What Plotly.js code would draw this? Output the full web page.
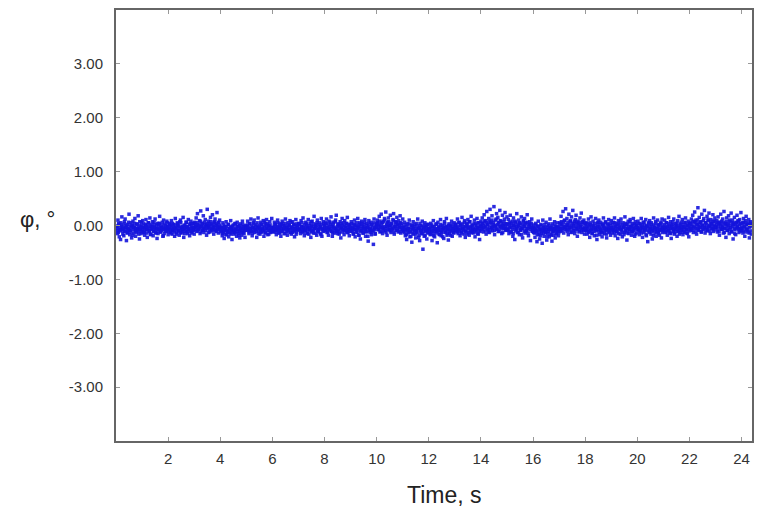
<!DOCTYPE html>
<html>
<head>
<meta charset="utf-8">
<script src="https://cdn.plot.ly/plotly-3.0.1.min.js"></script>
<style>html,body{margin:0;padding:0;background:#fff;}#chart{width:768px;height:523px;}</style>
</head>
<body>
<div id="chart"></div>
<script>
// Sampling step of the recorded signal, seconds
const sampleStep = 0.025;

// Angle phi (degrees): samples on the full step (40 per second)
const phiValues = [
-0.02,-0.15,0.10,0.04,-0.21,-0.08,-0.26,0.01,0.16,-0.05,-0.11,-0.19,0.07,0.12,-0.03,-0.28,-0.13,0.02,-0.07,0.21,-0.17,-0.09,0.05,-0.23,-0.01,0.08,-0.14,-0.04,0.13,-0.20,-0.10,0.03,-0.06,0.18,-0.16,-0.25,0.00,-0.08,0.06,-0.12,
0.09,-0.04,-0.13,-0.18,0.02,0.11,-0.07,-0.22,-0.01,0.05,-0.10,0.14,-0.16,-0.06,-0.02,0.07,-0.19,-0.11,0.01,0.12,-0.05,-0.14,-0.24,0.04,-0.08,0.03,0.17,-0.12,-0.03,-0.09,0.06,-0.20,0.10,-0.15,-0.06,0.00,-0.11,0.08,-0.02,-0.17,
-0.07,0.04,-0.12,-0.01,0.09,-0.16,-0.09,0.02,-0.04,-0.20,0.13,-0.06,-0.13,0.05,0.00,-0.10,-0.18,0.07,0.10,-0.03,-0.14,-0.08,0.15,-0.22,-0.05,0.01,-0.11,0.06,-0.02,-0.15,0.11,-0.07,-0.19,0.03,0.08,-0.12,-0.04,-0.09,0.04,-0.16,
0.06,-0.03,0.14,-0.11,0.22,0.01,-0.07,0.09,-0.15,0.27,-0.02,0.04,-0.09,0.18,-0.13,-0.05,0.11,0.02,-0.18,0.30,-0.06,0.08,-0.01,-0.12,0.15,0.03,-0.08,0.20,-0.04,-0.16,0.07,0.12,-0.10,0.00,0.24,-0.07,-0.14,0.05,0.10,-0.03,
-0.10,-0.04,-0.19,0.05,-0.13,-0.24,-0.02,-0.08,0.07,-0.17,-0.11,0.02,-0.21,-0.06,-0.14,0.09,-0.03,-0.26,-0.09,0.01,-0.16,-0.12,0.04,-0.07,-0.20,0.06,-0.01,-0.15,-0.10,-0.23,0.03,-0.05,-0.18,0.08,-0.13,-0.02,-0.09,-0.22,0.00,-0.06,
-0.02,0.08,-0.09,-0.15,0.03,-0.06,0.12,-0.11,-0.19,-0.04,0.05,0.10,-0.13,-0.07,0.01,-0.22,-0.03,0.14,-0.10,-0.05,-0.16,0.06,0.02,-0.12,-0.08,0.09,-0.20,-0.01,-0.14,0.04,0.11,-0.06,-0.17,0.00,-0.09,0.07,-0.13,-0.04,0.13,-0.11,
-0.05,-0.12,0.06,0.01,-0.09,-0.17,-0.03,0.10,-0.07,-0.14,0.03,-0.02,-0.20,-0.10,0.08,0.04,-0.06,-0.15,-0.01,0.12,-0.11,-0.04,-0.18,0.05,-0.08,0.00,0.09,-0.13,-0.16,-0.03,0.07,-0.10,0.02,-0.21,-0.06,0.11,-0.12,-0.01,-0.08,0.04,
0.03,-0.08,-0.15,0.09,-0.02,-0.11,0.14,-0.05,-0.19,-0.09,0.06,0.01,-0.13,-0.04,0.11,-0.16,-0.07,0.04,-0.22,-0.01,0.08,-0.10,-0.14,0.17,-0.06,-0.03,0.02,-0.18,0.10,-0.12,-0.08,0.05,-0.02,-0.15,0.13,-0.20,-0.05,0.07,-0.11,0.00,
-0.09,0.05,0.12,-0.13,-0.04,-0.18,0.08,-0.07,0.02,0.16,-0.11,-0.20,-0.02,0.06,-0.14,-0.06,0.10,0.19,-0.09,-0.15,0.03,-0.01,-0.12,0.07,-0.23,-0.05,0.13,0.01,-0.08,-0.17,0.09,-0.03,-0.10,0.04,0.15,-0.13,-0.07,-0.19,0.02,-0.04,
0.07,-0.10,-0.05,-0.16,0.03,0.10,-0.21,-0.08,0.00,-0.13,0.13,-0.03,-0.18,0.05,-0.25,-0.09,0.08,-0.02,-0.14,0.01,-0.06,0.11,-0.20,-0.11,0.04,-0.04,-0.29,0.09,-0.12,-0.07,0.06,-0.17,0.02,-0.10,-0.35,0.12,-0.05,-0.15,-0.01,0.04,
0.10,-0.07,0.02,0.17,-0.12,-0.03,0.21,0.05,-0.15,0.08,-0.05,0.13,-0.10,0.25,-0.01,-0.18,0.06,0.14,-0.08,0.00,0.19,-0.13,0.03,-0.06,0.11,0.22,-0.16,-0.02,0.07,-0.09,0.15,0.01,-0.12,0.09,-0.04,0.18,-0.14,0.04,-0.07,0.12,
-0.11,-0.03,0.06,-0.19,-0.08,-0.26,0.03,-0.14,-0.05,0.10,-0.21,-0.12,0.01,-0.31,-0.07,0.07,-0.16,-0.02,-0.10,-0.23,0.04,-0.13,0.12,-0.06,-0.18,-0.28,0.00,-0.09,-0.15,0.08,-0.44,-0.04,-0.20,0.05,-0.11,-0.01,-0.25,-0.08,0.02,-0.14,
-0.06,-0.17,0.04,-0.11,-0.28,-0.02,0.09,-0.14,-0.21,-0.07,0.02,-0.10,-0.32,0.06,-0.04,-0.16,-0.09,0.11,-0.19,-0.13,0.00,-0.06,-0.24,0.07,-0.12,-0.03,0.13,-0.18,-0.08,-0.27,0.03,-0.15,-0.01,-0.10,0.08,-0.20,-0.05,-0.13,0.05,-0.09,
0.02,-0.10,-0.04,0.12,-0.15,-0.08,0.06,-0.19,0.01,-0.12,0.15,-0.06,-0.02,-0.16,0.09,-0.22,-0.09,0.04,-0.03,0.11,-0.13,-0.18,0.07,-0.05,0.17,-0.11,0.00,-0.14,-0.07,0.10,-0.21,0.03,-0.09,0.13,-0.04,-0.16,0.05,-0.26,-0.01,0.08,
-0.05,0.14,0.04,-0.12,0.20,-0.03,0.09,-0.16,0.26,0.01,-0.08,0.13,-0.13,0.30,0.06,-0.04,0.18,-0.10,0.02,0.35,-0.17,0.10,-0.01,0.22,-0.07,0.15,0.05,-0.11,0.28,-0.02,0.08,-0.15,0.19,0.00,-0.06,0.12,0.24,-0.09,0.03,0.16,
-0.08,0.11,-0.15,0.03,0.19,-0.04,-0.12,0.08,-0.20,0.14,0.00,-0.26,0.06,-0.07,0.22,-0.13,-0.02,0.10,-0.17,0.04,-0.09,0.16,-0.05,-0.23,0.09,-0.01,0.13,-0.14,0.05,-0.10,0.20,-0.06,-0.19,0.02,0.07,-0.28,-0.03,0.12,-0.11,0.01,
-0.13,-0.05,-0.22,0.04,-0.10,-0.30,-0.01,0.08,-0.17,-0.25,-0.07,0.02,-0.14,-0.33,0.10,-0.09,-0.20,-0.03,-0.12,0.06,-0.27,-0.15,0.00,-0.08,-0.21,0.12,-0.04,-0.18,-0.29,0.03,-0.11,-0.06,0.07,-0.23,-0.02,-0.16,0.05,-0.10,-0.19,-0.07,
0.05,-0.11,0.17,0.02,-0.06,0.26,-0.14,0.09,-0.02,0.31,-0.08,0.13,0.00,-0.17,0.21,-0.04,0.07,-0.12,0.16,-0.01,0.28,-0.09,0.04,-0.15,0.11,0.19,-0.05,-0.20,0.08,0.01,-0.10,0.14,-0.03,0.23,-0.13,0.06,-0.07,0.10,-0.16,0.03,
-0.09,0.05,-0.16,-0.03,0.12,-0.11,-0.22,0.02,0.16,-0.07,-0.14,0.08,-0.01,-0.19,-0.05,0.13,-0.10,-0.26,0.04,-0.02,0.10,-0.17,-0.08,0.06,-0.12,-0.21,0.01,0.14,-0.04,-0.15,0.07,-0.09,-0.23,0.03,-0.06,0.11,-0.13,0.00,-0.18,0.09,
-0.04,-0.14,0.06,-0.09,0.14,-0.19,-0.01,0.03,-0.12,-0.24,0.09,-0.06,0.00,-0.16,0.12,-0.08,-0.21,0.05,-0.03,-0.13,0.16,-0.10,0.02,-0.27,-0.05,0.08,-0.15,-0.07,0.11,-0.02,-0.18,0.04,-0.11,0.13,-0.06,-0.20,0.07,0.01,-0.14,-0.04,
0.08,-0.07,-0.17,0.03,-0.10,0.13,-0.04,-0.22,0.06,-0.13,0.00,-0.08,0.11,-0.19,-0.02,-0.30,0.05,-0.11,0.09,-0.05,-0.16,0.02,-0.25,-0.09,0.14,-0.03,-0.14,0.07,-0.20,-0.06,0.10,-0.12,0.01,-0.18,-0.08,0.04,-0.23,0.12,-0.01,-0.10,
-0.06,0.10,-0.13,-0.03,0.05,-0.18,-0.09,0.15,-0.01,-0.14,0.07,-0.24,-0.05,0.02,-0.11,0.12,-0.16,-0.07,0.04,-0.02,-0.20,0.09,-0.10,0.17,-0.04,-0.13,0.01,-0.08,0.11,-0.17,-0.03,0.06,-0.12,0.14,-0.07,0.00,-0.15,0.08,-0.21,0.03,
0.04,-0.08,0.12,-0.02,0.19,-0.13,0.07,0.25,-0.05,0.10,-0.16,0.02,0.33,-0.09,0.15,-0.03,0.06,-0.12,0.21,0.00,-0.07,0.13,0.28,-0.14,0.05,-0.04,0.17,-0.10,0.09,0.23,-0.01,-0.15,0.11,0.03,-0.06,0.20,-0.11,0.08,0.14,-0.03,
-0.02,0.09,-0.12,0.16,0.03,-0.18,0.06,0.21,-0.07,-0.01,0.12,-0.14,0.26,-0.05,0.04,-0.22,0.14,-0.09,0.01,0.18,-0.15,0.07,-0.04,0.23,-0.11,0.10,-0.25,0.02,0.15,-0.08,-0.17,0.05,0.19,-0.03,0.08,-0.13,0.11,-0.06,0.24,-0.10,
0.05,-0.14,0.13,-0.03,-0.20,0.09,0.17,-0.08,0.02,-0.12,0.11,-0.23,-0.01,0.07,-0.16,0.04
];

// Angle phi (degrees): samples on the half step (dense core of the band)
const phiMidValues = [
-0.06,-0.01,-0.09,-0.13,0.02,-0.04,-0.10,0.05,-0.07,-0.02,-0.16,-0.05,0.03,-0.11,-0.08,0.00,-0.03,-0.14,-0.06,0.06,-0.09,-0.01,-0.12,-0.04,0.01,-0.18,-0.07,-0.02,0.04,-0.10,-0.05,-0.13,0.02,-0.08,-0.03,-0.11,0.07,-0.06,-0.15,-0.01,
-0.04,-0.09,0.03,-0.12,-0.06,0.00,-0.02,-0.14,-0.08,0.05,-0.05,-0.11,-0.01,-0.17,0.02,-0.07,-0.04,-0.10,0.06,-0.03,-0.13,-0.08,0.01,-0.06,-0.15,-0.02,0.04,-0.09,-0.12,-0.04,0.00,-0.07,-0.19,-0.03,0.03,-0.10,-0.05,-0.08,0.05,-0.02,
-0.11,-0.05,0.02,-0.08,-0.14,-0.03,0.04,-0.09,-0.06,-0.12,0.01,-0.04,-0.16,-0.07,0.03,-0.01,-0.10,-0.05,-0.13,0.05,-0.08,-0.02,-0.11,-0.06,0.00,-0.15,-0.04,0.06,-0.09,-0.03,-0.12,-0.07,0.02,-0.05,-0.10,-0.01,-0.14,0.04,-0.06,-0.09,
-0.03,0.02,-0.07,-0.01,0.05,-0.10,-0.04,0.01,-0.06,0.08,-0.12,-0.02,0.03,-0.08,-0.05,0.06,-0.01,-0.09,0.00,-0.04,0.04,-0.13,-0.03,0.02,-0.07,0.07,-0.05,-0.10,0.01,-0.02,0.05,-0.08,-0.04,0.03,-0.11,-0.01,0.06,-0.06,-0.03,0.00,
-0.08,-0.12,-0.04,-0.15,-0.07,0.01,-0.10,-0.05,-0.17,-0.02,-0.09,-0.13,0.02,-0.06,-0.11,-0.03,-0.16,-0.08,-0.01,-0.12,-0.05,-0.09,0.03,-0.14,-0.07,-0.02,-0.11,-0.06,-0.18,0.00,-0.08,-0.04,-0.13,-0.10,0.02,-0.06,-0.15,-0.03,-0.09,-0.05,
-0.05,0.01,-0.08,-0.03,-0.12,0.04,-0.06,-0.10,-0.01,-0.14,-0.04,0.03,-0.09,-0.07,-0.02,-0.11,0.05,-0.05,-0.15,-0.03,0.00,-0.08,-0.12,0.02,-0.06,-0.04,-0.10,0.06,-0.07,-0.13,-0.01,-0.05,0.03,-0.09,-0.16,-0.02,0.01,-0.08,-0.04,-0.11,
-0.04,-0.09,-0.01,-0.06,0.03,-0.12,-0.07,-0.02,0.05,-0.10,-0.05,-0.14,-0.03,0.02,-0.08,-0.11,0.00,-0.06,-0.04,-0.15,0.04,-0.07,-0.02,-0.09,-0.12,0.01,-0.05,-0.08,0.06,-0.03,-0.13,-0.06,0.02,-0.10,-0.01,-0.07,-0.16,0.03,-0.04,-0.08,
-0.07,0.02,-0.05,-0.11,-0.02,0.05,-0.08,-0.13,-0.04,0.01,-0.09,-0.06,0.04,-0.15,-0.03,-0.07,0.00,-0.10,-0.05,0.07,-0.12,-0.02,-0.08,0.03,-0.06,-0.14,-0.01,-0.04,0.05,-0.09,-0.11,0.01,-0.06,-0.03,-0.17,0.02,-0.07,-0.10,0.04,-0.05,
-0.02,-0.08,0.04,-0.05,-0.12,0.01,-0.07,-0.03,0.06,-0.10,-0.06,-0.01,-0.14,0.03,-0.04,-0.09,0.07,-0.05,-0.11,-0.02,0.02,-0.08,-0.16,0.00,-0.06,0.04,-0.03,-0.12,-0.07,0.05,-0.01,-0.10,-0.05,0.03,-0.13,-0.04,0.01,-0.08,-0.02,-0.11,
-0.06,0.03,-0.10,-0.04,-0.15,0.01,-0.07,-0.02,-0.12,0.05,-0.08,-0.05,-0.18,-0.01,0.02,-0.11,-0.06,0.04,-0.09,-0.14,-0.03,0.06,-0.07,-0.12,0.00,-0.05,-0.20,-0.02,0.03,-0.09,-0.06,-0.13,0.01,-0.04,-0.10,0.05,-0.08,-0.16,-0.03,0.02,
-0.03,0.05,-0.08,-0.01,0.08,-0.05,-0.11,0.02,-0.04,0.06,-0.09,-0.02,0.10,-0.06,-0.13,0.03,-0.01,-0.07,0.07,-0.04,-0.10,0.01,0.04,-0.08,-0.03,0.09,-0.12,-0.05,0.02,-0.02,0.06,-0.09,-0.06,0.03,-0.01,-0.11,0.05,-0.04,0.00,-0.07,
-0.09,-0.04,-0.13,0.01,-0.07,-0.17,-0.02,-0.10,-0.06,0.03,-0.12,-0.08,-0.20,-0.03,0.00,-0.14,-0.05,-0.09,0.02,-0.16,-0.07,-0.11,-0.01,-0.06,-0.22,-0.04,0.04,-0.12,-0.08,-0.02,-0.15,-0.10,0.01,-0.06,-0.18,-0.03,-0.09,0.02,-0.13,-0.05,
-0.07,-0.12,-0.03,-0.16,0.01,-0.09,-0.05,-0.19,-0.02,-0.11,-0.07,0.03,-0.14,-0.06,-0.10,-0.01,-0.17,-0.04,0.02,-0.12,-0.08,-0.21,-0.03,-0.06,0.04,-0.13,-0.09,-0.02,-0.15,-0.05,0.00,-0.11,-0.07,-0.18,-0.03,0.02,-0.10,-0.06,-0.14,-0.01,
-0.04,0.02,-0.08,-0.12,-0.02,0.05,-0.07,-0.10,0.00,-0.05,-0.14,0.03,-0.06,-0.09,0.06,-0.03,-0.11,-0.01,-0.16,0.02,-0.06,-0.04,0.07,-0.10,-0.02,-0.13,0.01,-0.07,-0.05,0.04,-0.12,-0.08,0.00,-0.03,-0.15,0.05,-0.06,-0.09,-0.01,-0.11,
-0.02,0.04,-0.07,0.01,-0.04,0.08,-0.10,-0.01,0.05,-0.06,0.02,-0.12,0.07,-0.03,-0.08,0.03,0.10,-0.05,-0.02,0.06,-0.09,0.00,-0.04,0.12,-0.07,0.02,-0.11,0.05,-0.01,0.09,-0.06,-0.03,0.04,-0.13,0.01,0.07,-0.05,-0.02,0.03,-0.08,
-0.05,0.02,-0.09,-0.03,0.06,-0.12,-0.01,0.04,-0.07,-0.15,0.01,-0.04,0.08,-0.10,-0.02,-0.06,0.03,-0.13,0.00,0.05,-0.08,-0.04,-0.17,0.02,-0.06,0.07,-0.11,-0.02,0.03,-0.09,-0.05,0.06,-0.14,-0.01,0.01,-0.07,-0.03,0.04,-0.10,-0.05,
-0.09,-0.03,-0.14,-0.07,0.01,-0.11,-0.17,-0.05,-0.02,-0.12,-0.08,-0.19,0.00,-0.06,-0.10,-0.15,-0.04,0.02,-0.09,-0.13,-0.07,-0.21,-0.03,-0.11,0.03,-0.06,-0.16,-0.08,-0.01,-0.12,-0.05,-0.18,-0.09,0.01,-0.07,-0.14,-0.04,-0.10,-0.02,-0.13,
-0.03,0.03,-0.06,0.07,-0.09,-0.01,0.05,-0.04,0.10,-0.07,-0.02,0.02,-0.11,0.06,-0.05,0.01,-0.08,0.09,-0.03,-0.13,0.04,-0.06,0.00,0.08,-0.10,-0.02,0.05,-0.07,0.03,-0.04,-0.12,0.06,-0.01,-0.08,0.02,-0.05,0.07,-0.09,-0.03,0.04,
-0.06,-0.02,-0.10,0.03,-0.07,-0.13,-0.01,0.05,-0.09,-0.04,-0.15,0.01,-0.06,-0.11,0.04,-0.03,-0.08,-0.18,-0.02,0.06,-0.07,-0.12,-0.04,0.02,-0.10,-0.05,-0.14,0.03,-0.01,-0.09,-0.06,0.05,-0.16,-0.03,-0.08,0.01,-0.11,-0.05,0.04,-0.07,
-0.05,-0.09,0.02,-0.04,-0.13,0.05,-0.07,-0.02,-0.11,-0.06,0.03,-0.15,-0.03,0.06,-0.08,-0.05,-0.12,0.01,-0.04,-0.17,-0.01,0.04,-0.09,-0.06,-0.14,0.02,-0.03,-0.10,0.07,-0.07,-0.02,-0.12,0.00,-0.05,-0.09,0.03,-0.16,-0.04,0.01,-0.08,
-0.03,-0.08,0.04,-0.11,-0.05,-0.01,-0.14,0.02,-0.07,-0.04,0.06,-0.10,-0.06,-0.17,0.00,-0.03,-0.09,0.03,-0.13,-0.07,-0.02,0.05,-0.11,-0.05,-0.19,0.01,-0.04,-0.08,0.04,-0.12,-0.06,-0.01,-0.15,0.02,-0.09,-0.03,0.06,-0.07,-0.13,-0.04,
-0.06,0.02,-0.09,-0.04,0.05,-0.12,-0.02,-0.07,0.03,-0.10,-0.05,-0.15,0.01,-0.03,0.07,-0.08,-0.06,-0.13,0.00,-0.04,0.04,-0.11,-0.07,-0.01,-0.16,0.03,-0.05,0.06,-0.09,-0.02,-0.12,0.02,-0.06,-0.03,0.05,-0.14,-0.08,0.01,-0.04,-0.10,
-0.02,0.05,-0.06,0.02,-0.09,0.08,-0.04,-0.01,0.06,-0.11,0.03,-0.05,0.10,-0.02,-0.08,0.04,-0.03,0.07,-0.12,0.01,-0.06,0.09,-0.01,-0.04,0.05,-0.09,0.02,-0.07,0.11,-0.03,0.00,-0.10,0.06,-0.05,0.03,-0.02,0.08,-0.08,0.01,-0.04,
-0.04,0.03,-0.08,0.06,-0.02,-0.11,0.04,-0.05,0.01,0.08,-0.07,-0.03,0.05,-0.13,0.02,-0.06,0.07,-0.01,-0.09,0.03,-0.04,0.10,-0.08,0.00,-0.12,0.05,-0.02,0.04,-0.06,-0.15,0.01,0.06,-0.05,-0.01,0.09,-0.07,0.02,-0.10,0.04,-0.03,
-0.05,0.03,-0.09,0.06,-0.02,-0.12,0.04,-0.06,0.01,-0.08,0.05,-0.14,-0.03,0.02,-0.10,0.00
];

// Sample times (s)
const timeValues = phiValues.map((_, i) => (i + 1) * sampleStep);
const timeMidValues = phiMidValues.map((_, i) => (i + 0.5) * sampleStep);

const xTickValues = [2, 4, 6, 8, 10, 12, 14, 16, 18, 20, 22, 24];
const xTickLabels = ["2", "4", "6", "8", "10", "12", "14", "16", "18", "20", "22", "24"];
const yTickValues = [-3, -2, -1, 0, 1, 2, 3];
const yTickLabels = ["-3.00", "-2.00", "-1.00", "0.00", "1.00", "2.00", "3.00"];

const markerStyle = {symbol: 'square', size: 3.5, color: 'rgb(20,20,220)', opacity: 0.9, line: {width: 0}};

const traces = [
  {x: timeValues, y: phiValues, type: 'scatter', mode: 'markers', marker: markerStyle, hoverinfo: 'x+y'},
  {x: timeMidValues, y: phiMidValues, type: 'scatter', mode: 'markers', marker: markerStyle, hoverinfo: 'x+y'}
];

const fontFamily = 'Liberation Sans, Arial, sans-serif';
const axisFont = {family: fontFamily, size: 15, color: '#333'};

const layout = {
  width: 768,
  height: 523,
  margin: {l: 116, r: 16, t: 10, b: 82},
  paper_bgcolor: '#fff',
  plot_bgcolor: '#fff',
  showlegend: false,
  xaxis: {
    range: [0, 24.4],
    tickvals: xTickValues,
    ticktext: xTickLabels,
    ticks: 'inside',
    ticklen: 4,
    tickcolor: '#999',
    showline: true,
    linecolor: '#666',
    linewidth: 2,
    mirror: 'ticks',
    showgrid: false,
    zeroline: false,
    tickfont: axisFont,
    ticklabelstandoff: 3
  },
  yaxis: {
    range: [-4, 4],
    tickvals: yTickValues,
    ticktext: yTickLabels,
    ticks: 'inside',
    ticklen: 4,
    tickcolor: '#999',
    showline: true,
    linecolor: '#666',
    linewidth: 2,
    mirror: 'ticks',
    showgrid: false,
    zeroline: false,
    tickfont: axisFont,
    ticklabelstandoff: 8
  },
  annotations: [
    {
      text: 'φ, °',
      xref: 'paper', yref: 'paper',
      x: -0.124, y: 0.515,
      xanchor: 'center', yanchor: 'middle',
      showarrow: false,
      font: {family: fontFamily, size: 22, color: '#222'}
    },
    {
      text: 'Time, s',
      xref: 'paper', yref: 'paper',
      x: 0.516, y: -0.125,
      xanchor: 'center', yanchor: 'middle',
      showarrow: false,
      font: {family: fontFamily, size: 23, color: '#222'}
    }
  ]
};

Plotly.newPlot('chart', traces, layout, {displayModeBar: false, staticPlot: true});
</script>
</body>
</html>
